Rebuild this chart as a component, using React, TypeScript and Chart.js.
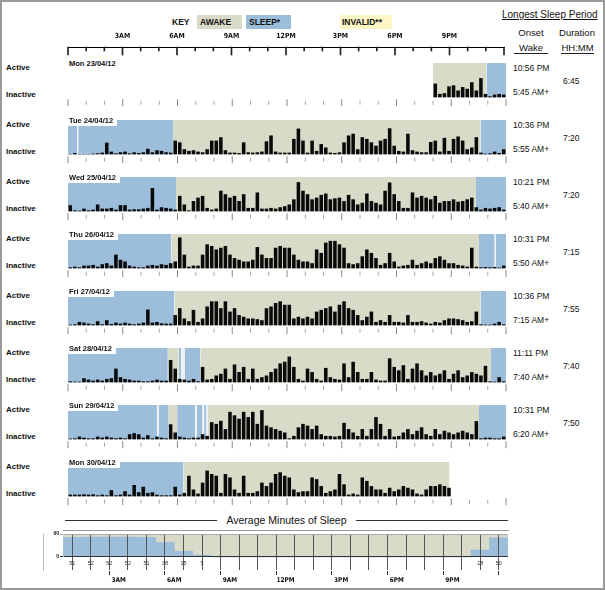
import React, { useEffect, useRef } from 'react';
import { Chart, registerables } from 'chart.js';

Chart.register(...registerables);

// ---------------- data ----------------
const dayLabels = ['Mon 23/04/12', 'Tue 24/04/12', 'Wed 25/04/12', 'Thu 26/04/12', 'Fri 27/04/12', 'Sat 28/04/12', 'Sun 29/04/12', 'Mon 30/04/12'];
const onsetTimes = ['10:56 PM', '10:36 PM', '10:21 PM', '10:31 PM', '10:36 PM', '11:11 PM', '10:31 PM'];
const wakeTimes = ['5:45 AM+', '5:55 AM+', '5:40 AM+', '5:50 AM+', '7:15 AM+', '7:40 AM+', '6:20 AM+'];
const sleepDurations = ['6:45', '7:20', '7:20', '7:15', '7:55', '7:40', '7:50'];

const hourTickValues = [3, 6, 9, 12, 15, 18, 21];
const hourTickLabels = ['3AM', '6AM', '9AM', '12PM', '3PM', '6PM', '9PM'];
const hourMarks = [0, 1, 2, 3, 4, 5, 6, 7, 8, 9, 10, 11, 12, 13, 14, 15, 16, 17, 18, 19, 20, 21, 22, 23, 24];

// periods: [startHour, endHour, state]  A = awake, S = sleep, G = short break
const periodsMon23 = [[20.0, 22.93, 'A'], [22.93, 24, 'S']];
const periodsTue24 = [[0, 0.5, 'S'], [0.5, 0.56, 'G'], [0.56, 5.75, 'S'], [5.75, 22.6, 'A'], [22.6, 24, 'S']];
const periodsWed25 = [[0, 5.92, 'S'], [5.92, 22.35, 'A'], [22.35, 24, 'S']];
const periodsThu26 = [[0, 5.67, 'S'], [5.67, 22.52, 'A'], [22.52, 23.38, 'S'], [23.38, 23.45, 'G'], [23.45, 24, 'S']];
const periodsFri27 = [[0, 5.83, 'S'], [5.83, 22.6, 'A'], [22.6, 24, 'S']];
const periodsSat28 = [[0, 5.47, 'S'], [5.47, 6.07, 'A'], [6.07, 6.2, 'S'], [6.2, 6.41, 'G'], [6.41, 7.25, 'S'], [7.25, 23.18, 'A'], [23.18, 24, 'S']];
const periodsSun29 = [[0, 4.87, 'S'], [4.87, 4.96, 'G'], [4.96, 5.52, 'S'], [5.52, 5.98, 'A'], [5.98, 6.97, 'S'], [6.97, 7.07, 'G'], [7.07, 7.37, 'S'], [7.37, 7.46, 'G'], [7.46, 7.59, 'S'], [7.59, 7.67, 'G'], [7.67, 22.52, 'A'], [22.52, 24, 'S']];
const periodsMon30 = [[0, 6.33, 'S'], [6.33, 20.9, 'A']];

// activity counts in 15-minute bins (0-100 = panel height)
const activityStart = [20, 0, 0, 0, 0, 0, 0, 0];
const actMon23 = [40, 10, 12, 32, 35, 20, 30, 25, 44, 20, 56, 10, 3, 8, 10, 8];
const actTue24 = [
  1, 4, 1, 1, 1, 2, 3, 5, 34, 8, 3, 6, 8, 3, 6, 4, 6, 16, 6, 12, 10, 6, 5, 40,
  35, 15, 10, 12, 8, 6, 15, 40, 40, 50, 12, 5, 5, 4, 35, 6, 5, 6, 8, 38, 55, 8, 5, 5,
  5, 45, 75, 40, 5, 40, 10, 30, 20, 5, 4, 6, 35, 55, 60, 15, 50, 45, 35, 25, 40, 45, 76, 25,
  10, 8, 60, 12, 8, 6, 6, 36, 40, 8, 48, 10, 45, 52, 40, 15, 20, 50, 5, 2, 3, 8, 4, 15,
];
const actWed25 = [
  18, 3, 2, 8, 3, 5, 20, 8, 8, 10, 5, 18, 18, 5, 6, 6, 8, 10, 68, 5, 12, 10, 8, 5,
  45, 20, 3, 30, 40, 45, 10, 5, 8, 60, 50, 40, 45, 30, 50, 10, 10, 55, 8, 8, 10, 8, 12, 15,
  20, 35, 85, 60, 50, 35, 40, 48, 52, 35, 38, 40, 30, 48, 35, 20, 25, 52, 30, 25, 20, 60, 84, 50,
  30, 10, 10, 55, 40, 45, 40, 35, 45, 25, 30, 30, 35, 28, 30, 35, 40, 12, 5, 10, 8, 10, 12, 5,
];
const actThu26 = [
  3, 5, 3, 8, 8, 10, 5, 12, 15, 8, 40, 25, 20, 8, 5, 3, 3, 8, 10, 8, 12, 10, 15, 20,
  90, 40, 5, 8, 8, 40, 70, 65, 55, 60, 65, 40, 30, 25, 20, 20, 25, 62, 40, 30, 30, 60, 65, 60,
  60, 40, 25, 20, 20, 15, 55, 45, 75, 80, 80, 70, 60, 15, 12, 15, 35, 55, 45, 30, 10, 15, 45, 20,
  5, 8, 10, 25, 10, 15, 20, 15, 30, 35, 25, 15, 15, 10, 8, 5, 60, 5, 3, 4, 3, 4, 2, 8,
];
const actFri27 = [
  2, 3, 10, 8, 5, 3, 12, 3, 15, 4, 8, 5, 8, 5, 3, 5, 8, 46, 8, 10, 6, 5, 5, 30,
  50, 20, 12, 45, 10, 20, 55, 70, 70, 50, 70, 40, 50, 30, 25, 20, 20, 18, 15, 50, 55, 65, 70, 60,
  60, 20, 25, 20, 25, 20, 40, 45, 50, 55, 40, 60, 70, 50, 45, 30, 15, 25, 40, 10, 15, 10, 30, 10,
  10, 8, 30, 10, 10, 12, 8, 5, 10, 8, 15, 20, 20, 18, 15, 10, 12, 40, 3, 2, 2, 5, 10, 3,
];
const actSat28 = [
  3, 2, 2, 12, 8, 5, 8, 5, 10, 12, 40, 15, 10, 8, 5, 5, 3, 3, 5, 8, 5, 5, 65, 40,
  10, 8, 5, 10, 3, 45, 8, 10, 20, 25, 40, 10, 52, 30, 45, 10, 40, 10, 15, 20, 30, 40, 55, 60,
  75, 45, 10, 5, 40, 30, 10, 5, 42, 15, 10, 8, 55, 15, 60, 30, 10, 10, 30, 8, 5, 5, 70, 45,
  35, 50, 10, 40, 55, 35, 20, 30, 20, 25, 35, 10, 25, 35, 15, 20, 30, 25, 20, 48, 3, 2, 15, 3,
];
const actSun29 = [
  2, 3, 8, 5, 3, 3, 8, 5, 8, 5, 3, 5, 3, 15, 18, 15, 5, 12, 3, 8, 5, 3, 44, 20,
  8, 5, 3, 5, 5, 15, 10, 50, 45, 54, 30, 80, 70, 60, 80, 65, 80, 45, 85, 40, 35, 30, 25, 20,
  3, 10, 35, 45, 40, 30, 40, 15, 10, 10, 8, 10, 48, 30, 20, 10, 30, 10, 30, 65, 45, 10, 30, 8,
  10, 20, 30, 15, 25, 35, 15, 10, 30, 15, 25, 20, 15, 20, 25, 20, 15, 53, 3, 5, 5, 3, 3, 8,
];
const actMon30 = [
  5, 5, 5, 6, 5, 6, 3, 5, 3, 18, 3, 5, 15, 5, 33, 12, 28, 10, 12, 5, 3, 3, 3, 28,
  5, 10, 60, 20, 8, 40, 75, 65, 60, 10, 65, 55, 20, 10, 60, 10, 10, 15, 40, 30, 40, 65, 70, 60,
  55, 20, 12, 15, 15, 55, 50, 30, 10, 15, 20, 65, 35, 5, 8, 5, 55, 45, 30, 20, 20, 10, 25, 15,
  20, 30, 25, 20, 8, 5, 20, 30, 30, 35, 30, 25,
];

// average minutes of sleep per hour
const avgSleepMinutes = [51, 52, 52, 52, 51, 38, 15, 5, 0, 0, 0, 0, 0, 0, 0, 0, 0, 0, 0, 0, 0, 0, 18, 50];

const periods: any[][] = [periodsMon23, periodsTue24, periodsWed25, periodsThu26, periodsFri27, periodsSat28, periodsSun29, periodsMon30];
const activity: number[][] = [actMon23, actTue24, actWed25, actThu26, actFri27, actSat28, actSun29, actMon30];

// ---------------- style ----------------
const AWAKE = '#d9dbc8';
const SLEEP = '#9dbedb';
const INVALID = '#fcf7c4';
const GAP = '#eef1f2';
const stateColor: Record<string, string> = { A: AWAKE, S: SLEEP, G: GAP };
const FONT = "'Liberation Sans', Arial, sans-serif";
const NARROW = "'Liberation Sans Narrow', 'DejaVu Sans Condensed', 'Liberation Sans', sans-serif";
const BIN_HOURS = 0.25;

const PANEL_TOP0 = 58;
const PANEL_STEP = 57.05;
const ROW_H = 55;
const PAD = 3;
const X_LEFT = 66;
const X_RIGHT = 508;

const panelTop = (i: number) => Math.round(PANEL_TOP0 + i * PANEL_STEP);

function DayChart({ index }: { index: number }) {
  const ref = useRef<HTMLCanvasElement>(null);
  useEffect(() => {
    const start = activityStart[index];
    const bars = activity[index].map((v, k) => ({ x: start + (k + 0.5) * BIN_HOURS, y: v }));
    const shading = periods[index].map(([s, e, st]: any) => ({
      type: 'line',
      data: [{ x: s, y: 100 }, { x: e, y: 100 }],
      fill: 'origin',
      backgroundColor: stateColor[st],
      borderWidth: 0,
      pointRadius: 0,
      order: 3,
    }));
    const chart = new Chart(ref.current as HTMLCanvasElement, {
      type: 'bar',
      data: {
        datasets: [
          {
            type: 'bar',
            data: bars,
            backgroundColor: '#0a0a0a',
            barPercentage: 1,
            categoryPercentage: 0.78,
            order: 1,
          },
          {
            type: 'scatter',
            data: hourMarks.map((h) => ({ x: h, y: -15.5 })),
            pointStyle: 'line',
            pointRotation: 90,
            pointRadius: (c: any) => (c.raw && c.raw.x % 3 === 0 ? 3.5 : 2),
            pointBorderColor: (c: any) => (c.raw && c.raw.x % 3 === 0 ? '#8a8a8a' : '#a8a8a8'),
            pointBorderWidth: 1,
            clip: false,
            order: 2,
          },
          ...shading,
        ] as any,
      },
      options: {
        animation: false,
        responsive: false,
        events: [],
        devicePixelRatio: 1,
        layout: { padding: { left: PAD, right: PAD, top: 0, bottom: 0 } },
        plugins: { legend: { display: false }, tooltip: { enabled: false } },
        scales: {
          x: { type: 'linear', min: 0, max: 24, display: false, offset: false },
          y: { type: 'linear', min: -31, max: 100, display: false },
        },
      } as any,
    });
    return () => chart.destroy();
  }, [index]);
  return (
    <canvas
      ref={ref}
      width={X_RIGHT - X_LEFT + 2 * PAD}
      height={ROW_H}
      style={{ position: 'absolute', left: X_LEFT - PAD, top: panelTop(index), width: X_RIGHT - X_LEFT + 2 * PAD, height: ROW_H }}
    />
  );
}

function TopAxis() {
  const ref = useRef<HTMLCanvasElement>(null);
  useEffect(() => {
    const chart = new Chart(ref.current as HTMLCanvasElement, {
      type: 'bar',
      data: {
        datasets: [
          {
            data: hourMarks.map((h) => ({ x: h, y: h % 3 === 0 ? 8 : 4 })),
            backgroundColor: '#222',
            barThickness: 1,
            clip: false,
          },
        ],
      } as any,
      options: {
        animation: false,
        responsive: false,
        events: [],
        devicePixelRatio: 1,
        layout: { padding: { left: PAD, right: PAD, top: 0, bottom: 0 } },
        plugins: { legend: { display: false }, tooltip: { enabled: false } },
        scales: {
          x: {
            type: 'linear',
            position: 'top',
            min: 0,
            max: 24,
            offset: false,
            grid: { display: false, drawTicks: false },
            border: { display: true, color: '#000', width: 1 },
            ticks: {
              stepSize: 3,
              autoSkip: false,
              maxRotation: 0,
              padding: 7,
              color: '#111',
              font: { family: NARROW, size: 7, weight: 'bold' },
              callback: (v: any) => {
                const i = hourTickValues.indexOf(Number(v));
                return i >= 0 ? hourTickLabels[i] : '';
              },
            },
            afterFit: (s: any) => {
              s.height = 20;
            },
          },
          y: { type: 'linear', reverse: true, min: 0, max: 10, display: false },
        },
      } as any,
    });
    return () => chart.destroy();
  }, []);
  return (
    <canvas
      ref={ref}
      width={450}
      height={30}
      style={{ position: 'absolute', left: 61, top: 27, width: 450, height: 30 }}
    />
  );
}

function AverageChart() {
  const ref = useRef<HTMLCanvasElement>(null);
  useEffect(() => {
    const decor = {
      id: 'avgDecor',
      beforeDraw(chart: any) {
        const { ctx, chartArea, scales } = chart;
        const t = scales.y.getPixelForValue(60);
        const b = scales.y.getPixelForValue(0);
        ctx.save();
        ctx.fillStyle = AWAKE;
        ctx.fillRect(chartArea.left, t, chartArea.right - chartArea.left, b - t);
        ctx.restore();
      },
      afterDraw(chart: any) {
        const { ctx, scales } = chart;
        ctx.save();
        ctx.fillStyle = '#333';
        ctx.font = `5.5px ${FONT}`;
        ctx.textAlign = 'center';
        ctx.textBaseline = 'middle';
        avgSleepMinutes.forEach((v, i) => {
          if (v > 0) ctx.fillText(String(v), scales.x.getPixelForValue(i + 0.5), scales.y.getPixelForValue(-17));
        });
        ctx.restore();
      },
    };
    const chart = new Chart(ref.current as HTMLCanvasElement, {
      type: 'bar',
      data: {
        datasets: [
          {
            data: avgSleepMinutes.map((v, i) => ({ x: i + 0.5, y: v })),
            backgroundColor: SLEEP,
            barPercentage: 1,
            categoryPercentage: 1,
          },
        ],
      } as any,
      options: {
        animation: false,
        responsive: false,
        events: [],
        devicePixelRatio: 1,
        layout: { padding: { left: 0, right: PAD, top: 4, bottom: 0 } },
        plugins: { legend: { display: false }, tooltip: { enabled: false } },
        scales: {
          x: {
            type: 'linear',
            min: 0,
            max: 24,
            offset: false,
            grid: {
              display: true,
              color: '#555',
              lineWidth: 1,
              drawTicks: true,
              tickLength: 5,
              tickColor: (c: any) => (c.tick && c.tick.value % 3 === 0 ? '#333' : 'rgba(0,0,0,0)'),
              z: 1,
            },
            border: { display: true, color: '#333' },
            ticks: {
              stepSize: 1,
              autoSkip: false,
              maxRotation: 0,
              padding: 1,
              color: '#111',
              font: { family: NARROW, size: 6.5, weight: 'bold' },
              callback: (v: any) => {
                const i = hourTickValues.indexOf(Number(v));
                return i >= 0 ? hourTickLabels[i] : '';
              },
            },
            afterFit: (s: any) => {
              s.height = 18;
            },
          },
          y: {
            type: 'linear',
            min: -34,
            max: 60,
            afterBuildTicks: (s: any) => {
              s.ticks = [{ value: 0 }, { value: 60 }];
            },
            grid: {
              color: (c: any) => (c.tick && c.tick.value === 0 ? '#333' : '#aaa'),
              drawTicks: true,
              tickLength: 3,
              z: 1,
            },
            border: { display: true, color: '#777' },
            ticks: {
              padding: 1,
              color: '#111',
              font: { family: FONT, size: 5, weight: 'bold' },
            },
            afterFit: (s: any) => {
              s.width = 20;
            },
          },
        },
      } as any,
      plugins: [decor],
    });
    return () => chart.destroy();
  }, []);
  return (
    <canvas
      ref={ref}
      width={468}
      height={58}
      style={{ position: 'absolute', left: 43, top: 530, width: 468, height: 58 }}
    />
  );
}

const txt = (extra: React.CSSProperties): React.CSSProperties => ({
  position: 'absolute',
  fontFamily: FONT,
  color: '#111',
  whiteSpace: 'nowrap',
  ...extra,
});

export default function App() {
  return (
    <div
      style={{
        position: 'absolute',
        left: 0,
        top: 0,
        width: 605,
        height: 590,
        boxSizing: 'border-box',
        border: '2px solid #9a9a9a',
        background: '#fff',
        overflow: 'hidden',
      }}
    >
      <div style={{ position: 'absolute', left: -2, top: -2, width: 605, height: 590 }}>
        {/* key */}
        <div style={txt({ left: 172, top: 15, lineHeight: '14px', fontSize: 8.5, fontWeight: 'bold' })}>KEY</div>
        <div style={txt({ left: 197, top: 15, width: 45, height: 14, lineHeight: '14px', fontSize: 8.5, fontWeight: 'bold', background: AWAKE, paddingLeft: 3, boxSizing: 'border-box' })}>AWAKE</div>
        <div style={txt({ left: 246, top: 15, width: 45, height: 14, lineHeight: '14px', fontSize: 8.5, fontWeight: 'bold', background: SLEEP, paddingLeft: 3, boxSizing: 'border-box' })}>SLEEP*</div>
        <div style={txt({ left: 340, top: 15, width: 52, height: 14, lineHeight: '14px', fontSize: 8.5, fontWeight: 'bold', background: INVALID, paddingLeft: 2, boxSizing: 'border-box' })}>INVALID**</div>

        {/* right header */}
        <div style={txt({ left: 502, top: 9, lineHeight: '12px', fontSize: 10, textDecoration: 'underline' })}>Longest Sleep Period</div>
        <div style={txt({ left: 514, top: 27, width: 34, textAlign: 'center', lineHeight: '12px', fontSize: 9.5 })}>Onset</div>
        <div style={txt({ left: 514, top: 42, width: 34, textAlign: 'center', lineHeight: '11px', fontSize: 9.5, borderBottom: '1px solid #222' })}>Wake</div>
        <div style={txt({ left: 559, top: 27, width: 36, textAlign: 'center', lineHeight: '12px', fontSize: 9.5 })}>Duration</div>
        <div style={txt({ left: 561, top: 42, width: 33, textAlign: 'center', lineHeight: '11px', fontSize: 9.5, borderBottom: '1px solid #222' })}>HH:MM</div>

        <TopAxis />

        {dayLabels.map((d, i) => {
          const t = panelTop(i);
          return (
            <React.Fragment key={d}>
              <DayChart index={i} />
              <div style={txt({ left: X_LEFT, top: t, height: 11, lineHeight: '11px', fontSize: 7.5, fontWeight: 'bold', background: '#fff', padding: '0 4px 0 3px', zIndex: 2 })}>{d}</div>
              <div style={txt({ left: 6, top: t + 9.5 - 5, lineHeight: '10px', fontSize: 8, fontWeight: 'bold' })}>Active</div>
              <div style={txt({ left: 6, top: t + 36.5 - 5, lineHeight: '10px', fontSize: 8, fontWeight: 'bold' })}>Inactive</div>
              {i < onsetTimes.length && (
                <>
                  <div style={txt({ left: 513, top: t + 10 - 6, lineHeight: '12px', fontSize: 8.5 })}>{onsetTimes[i]}</div>
                  <div style={txt({ left: 513, top: t + 34 - 6, lineHeight: '12px', fontSize: 8.5 })}>{wakeTimes[i]}</div>
                  <div style={txt({ left: 563, top: t + 23 - 6, lineHeight: '12px', fontSize: 8.5 })}>{sleepDurations[i]}</div>
                </>
              )}
            </React.Fragment>
          );
        })}

        {/* average title */}
        <div style={{ position: 'absolute', left: 65, top: 513, width: 443, height: 14, display: 'flex', alignItems: 'center' }}>
          <div style={{ flex: 1, borderTop: '1px solid #333' }} />
          <div style={{ fontFamily: FONT, fontSize: 10.5, color: '#111', padding: '0 9px', lineHeight: '14px' }}>Average Minutes of Sleep</div>
          <div style={{ flex: 1, borderTop: '1px solid #333' }} />
        </div>

        <AverageChart />
      </div>
    </div>
  );
}
